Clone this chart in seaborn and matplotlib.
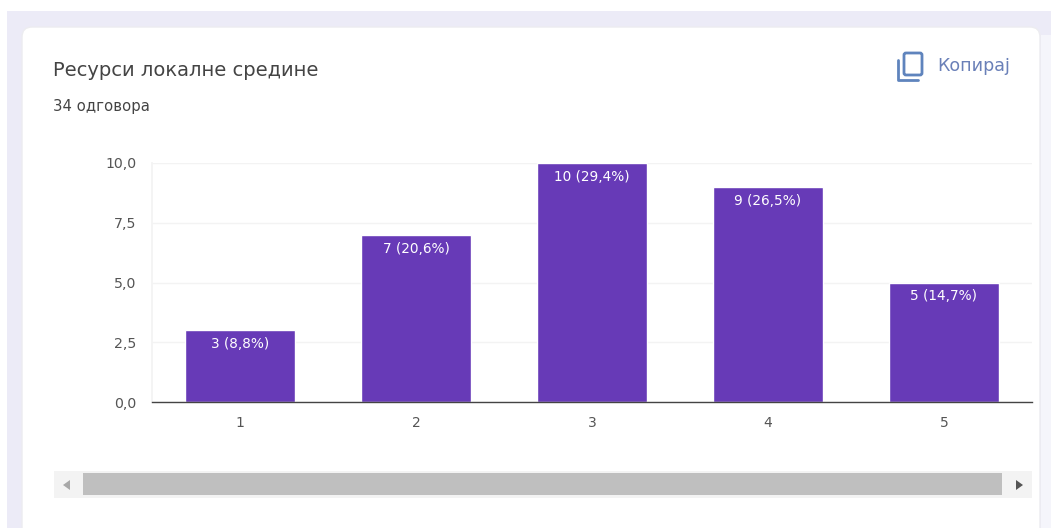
import matplotlib
matplotlib.use("Agg")
import matplotlib.pyplot as plt
from matplotlib.patches import FancyBboxPatch, Rectangle, Polygon
import pandas as pd
import seaborn as sns

ocene = ["1", "2", "3", "4", "5"]
odgovori = [3, 7, 10, 9, 5]
oznake = ["3 (8,8%)", "7 (20,6%)", "10 (29,4%)", "9 (26,5%)", "5 (14,7%)"]
y_vrednosti = [0, 2.5, 5, 7.5, 10]
y_oznake = ["0,0", "2,5", "5,0", "7,5", "10,0"]

W, H = 1051, 528
LJUB = "#673ab7"
SIVA = "#555555"

sns.set_theme(style="white")
plt.rcParams["font.family"] = ["DejaVu Sans"]

fig = plt.figure(figsize=(W / 100, H / 100), dpi=100, facecolor="white")

# pozadina kartice, u pikselima
bg = fig.add_axes([0, 0, 1, 1], zorder=0)
bg.set_xlim(0, W)
bg.set_ylim(H, 0)
bg.axis("off")
bg.add_patch(Rectangle((7, 11), W - 7, H - 11, fc="#ecebf7", ec="none"))
bg.add_patch(Rectangle((1041, 35), 10, H - 35, fc="#f5f5fb", ec="none"))
bg.add_patch(FancyBboxPatch((22, 27), 1018, 530, boxstyle="round,pad=0,rounding_size=10",
                            mutation_scale=1, fc="white", ec="#ececf0", lw=1))

bg.text(53, 71, "Ресурси локалне средине", fontsize=14, color="#444444", va="center")
bg.text(53, 107, "34 одговора", fontsize=10.7, color="#444444", va="center")

# ikonica i dugme
plava = "#5f84bd"
bg.add_patch(FancyBboxPatch((904, 53), 18, 22, boxstyle="round,pad=0,rounding_size=2",
                            mutation_scale=1, fc="none", ec=plava, lw=2))
bg.plot([898, 898, 918], [60, 80, 80], color=plava, lw=2)
bg.text(937, 66, "Копирај", fontsize=12.6, color="#6a80b8", va="center")

# skrol traka
bg.add_patch(Rectangle((54, 471), 978, 27, fc="#f3f3f3", ec="none"))
bg.add_patch(Rectangle((83, 473), 919, 22, fc="#bfbfbf", ec="none"))
bg.add_patch(Polygon([[63, 485], [70, 480], [70, 490]], fc="#a8a8a8", ec="none"))
bg.add_patch(Polygon([[1016, 480], [1023, 485], [1016, 490]], fc="#555555", ec="none"))

# grafik
ax = fig.add_axes([152 / W, 1 - 402 / H, 880 / W, 239 / H], zorder=1)
ax.patch.set_alpha(0)
df = pd.DataFrame({"ocena": ocene, "odgovori": odgovori})
sns.barplot(data=df, x="ocena", y="odgovori", color=LJUB, saturation=1, width=0.625, ax=ax, zorder=3)

ax.set_xlim(-0.5, 4.5)
ax.set_ylim(0, 10)
ax.set_xlabel("")
ax.set_ylabel("")
ax.set_yticks(y_vrednosti)
ax.set_yticklabels(y_oznake)
ax.tick_params(axis="y", length=0, pad=11, labelsize=10.2, labelcolor=SIVA)
ax.tick_params(axis="x", length=0, pad=10, labelsize=10, labelcolor=SIVA)
ax.yaxis.grid(True, color="#f3f3f3", lw=1)
ax.set_axisbelow(True)
for s in ["top", "right"]:
    ax.spines[s].set_visible(False)
ax.spines["left"].set_color("#f3f3f3")
ax.spines["bottom"].set_color("#444444")
ax.spines["bottom"].set_linewidth(1)
ax.spines["bottom"].set_zorder(5)

ax.bar_label(ax.containers[0], labels=oznake, label_type="edge", padding=-15,
             color="white", fontsize=9.8)

fig.savefig("out.png", dpi=100)
